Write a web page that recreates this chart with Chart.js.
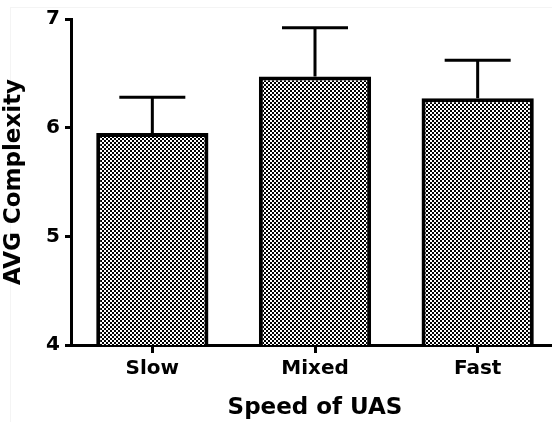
<!DOCTYPE html>
<html>
<head>
<meta charset="utf-8">
<script src="https://cdn.jsdelivr.net/npm/chart.js@4"></script>
<style>
    html, body { margin: 0; padding: 0; background: #fff; overflow: hidden; }
    #wrap { position: relative; width: 552px; height: 422px; overflow: hidden; }
    #frame { position: absolute; left: 10px; top: 7px; right: -5px; bottom: -5px; border-left: 1px solid #f4f4f4; border-top: 1px solid #f4f4f4; }
    canvas { position: absolute; left: 0; top: 0; }
</style>
</head>
<body>
<div id="wrap">
    <div id="frame"></div>
    <canvas id="chart" width="559" height="422"></canvas>
</div>
<script>
// Data
const categories = ['Slow', 'Mixed', 'Fast'];
const means = [5.95, 6.47, 6.27];
const upperErrors = [6.28, 6.92, 6.62];
const yTicks = [4, 5, 6, 7];

// Checkerboard fill like the original print
function makePattern() {
    const tile = document.createElement('canvas');
    tile.width = 4;
    tile.height = 4;
    const t = tile.getContext('2d');
    t.fillStyle = '#fff';
    t.fillRect(0, 0, 4, 4);
    t.fillStyle = '#000';
    t.fillRect(0, 0, 2, 2);
    t.fillRect(2, 2, 2, 2);
    return document.getElementById('chart').getContext('2d').createPattern(tile, 'repeat');
}

// Error bars (upper whisker only)
const errorBars = {
    id: 'errorBars',
    afterDatasetsDraw(chart) {
        const ctx = chart.ctx;
        const x = chart.scales.x;
        const y = chart.scales.y;
        ctx.save();
        ctx.strokeStyle = '#000';
        ctx.lineWidth = 3;
        categories.forEach((c, i) => {
            const cx = x.getPixelForValue(i);
            const top = y.getPixelForValue(upperErrors[i]);
            const base = y.getPixelForValue(means[i]);
            ctx.beginPath();
            ctx.moveTo(cx, base);
            ctx.lineTo(cx, top);
            ctx.moveTo(cx - 33, top);
            ctx.lineTo(cx + 33, top);
            ctx.stroke();
        });
        ctx.restore();
    }
};

const fontFamily = '"DejaVu Sans", sans-serif';

new Chart(document.getElementById('chart'), {
    type: 'bar',
    data: {
        labels: categories,
        datasets: [{
            data: means,
            backgroundColor: makePattern(),
            borderColor: '#000',
            borderWidth: 4,
            categoryPercentage: 1,
            barPercentage: 0.69
        }]
    },
    options: {
        responsive: false,
        animation: false,
        layout: { padding: { top: 19, right: 0, bottom: 0, left: 0 } },
        plugins: {
            legend: { display: false },
            tooltip: { enabled: false }
        },
        scales: {
            x: {
                offset: true,
                afterFit(scale) { scale.height = 77; },
                border: { display: true, color: '#000', width: 3 },
                grid: { display: true, offset: false, drawOnChartArea: false, drawTicks: true, tickLength: 8, color: '#000', lineWidth: 3 },
                ticks: { color: '#000', padding: 4, font: { family: fontFamily, size: 20, weight: 'bold' } },
                title: { display: true, text: 'Speed of UAS', color: '#000', padding: { top: 6, bottom: 0 }, font: { family: fontFamily, size: 23, weight: 'bold' } }
            },
            y: {
                min: 4,
                max: 7,
                afterFit(scale) { scale.width = 71; },
                afterBuildTicks(scale) { scale.ticks = yTicks.map(v => ({ value: v })); },
                border: { display: true, color: '#000', width: 3 },
                grid: { display: true, drawOnChartArea: false, drawTicks: true, tickLength: 6, color: '#000', lineWidth: 3 },
                ticks: { color: '#000', padding: 5, font: { family: fontFamily, size: 20, weight: 'bold' } },
                title: { display: true, text: 'AVG Complexity', color: '#000', padding: { top: 0, bottom: 0 }, font: { family: fontFamily, size: 23, weight: 'bold' } }
            }
        }
    },
    plugins: [errorBars]
});
</script>
</body>
</html>
